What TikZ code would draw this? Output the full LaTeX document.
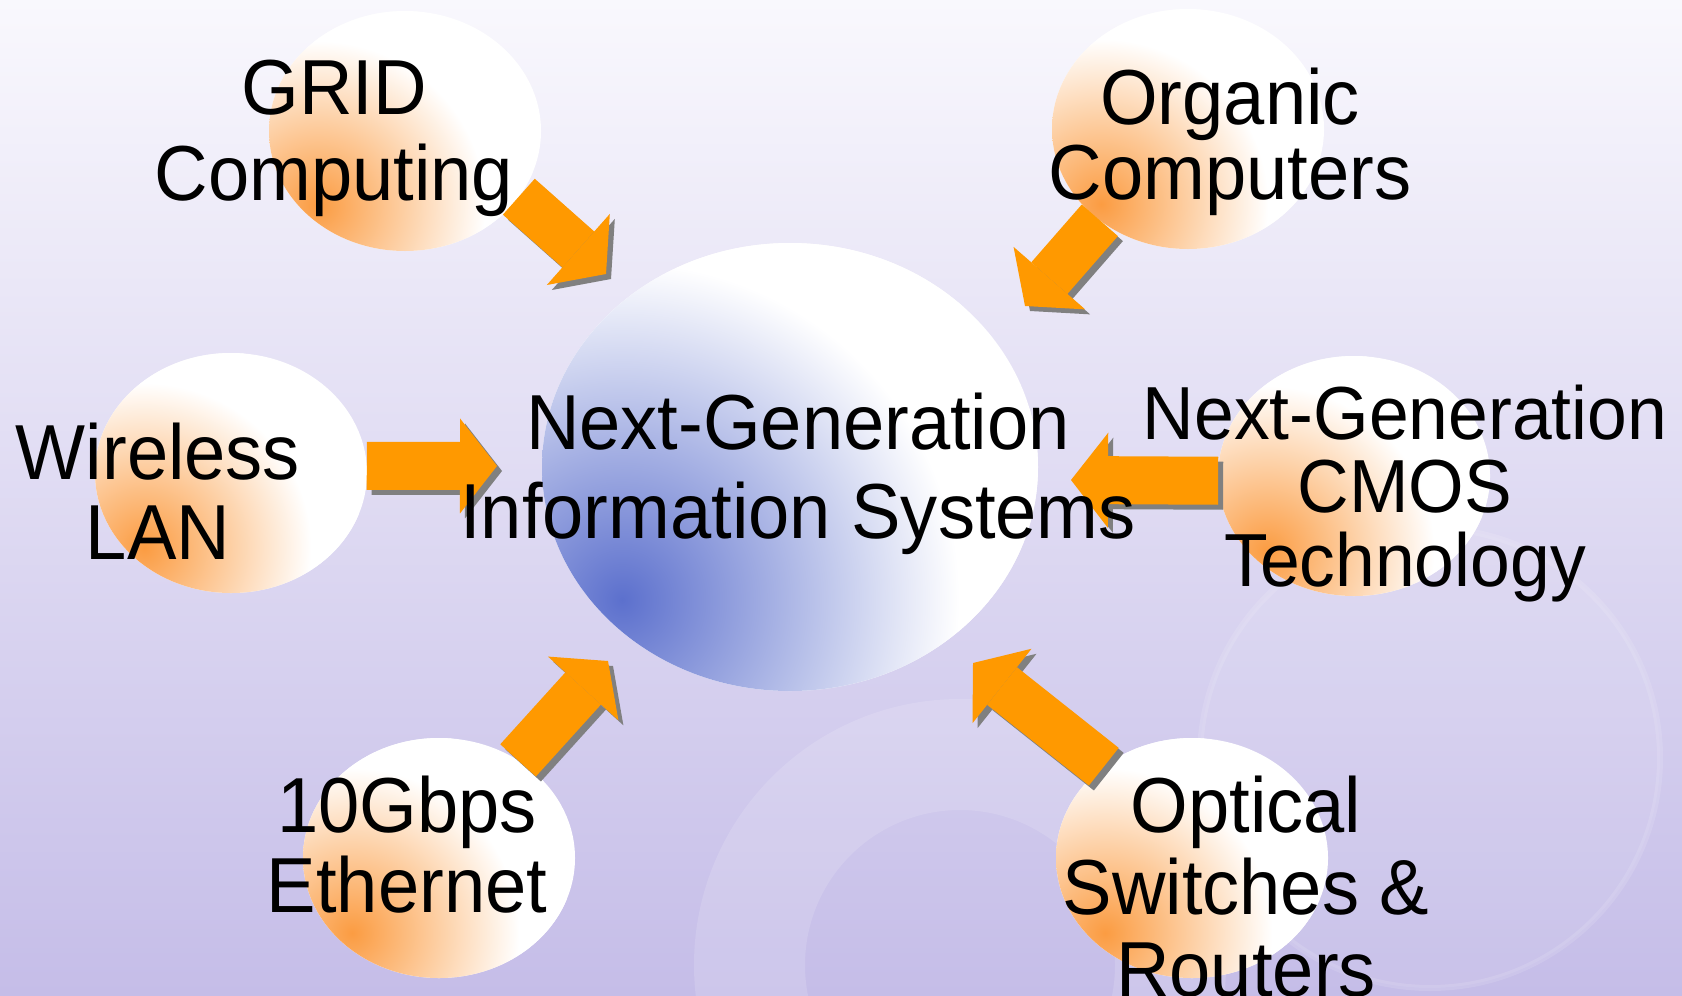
\documentclass[tikz,border=0pt]{standalone}
\usepackage{fontspec}
\setmainfont{Liberation Sans}[FakeStretch=0.95]
\usetikzlibrary{arrows.meta, shapes.geometric, calc}

\definecolor{bgtop}{RGB}{249,248,253}
\definecolor{bgmid}{RGB}{228,225,244}
\definecolor{bgbot}{RGB}{197,189,232}
\definecolor{hubblue}{RGB}{92,112,205}
\definecolor{ballorange}{RGB}{251,156,66}
\definecolor{arroworange}{RGB}{255,153,0}
\definecolor{arrowshadow}{RGB}{128,128,128}

\pgfdeclareradialshading{hubglow}{\pgfpointorigin}{color(0bp)=(hubblue); color(18.75bp)=(white); color(50bp)=(white)}
\pgfdeclareradialshading{ballglow}{\pgfpointorigin}{color(0bp)=(ballorange); color(18.75bp)=(white); color(50bp)=(white)}

\tikzset{
  ball/.style={ellipse, fill=white, minimum width=27.2mm, minimum height=24mm, inner sep=0pt, outer sep=0pt,
    path picture={\shade[shading=ballglow]
      ($(path picture bounding box.center)+(-90,75)$) circle (220);}},
  hubball/.style={ellipse, fill=white, minimum width=49.6mm, minimum height=44.8mm, inner sep=0pt, outer sep=0pt,
    path picture={\shade[shading=hubglow]
      ($(path picture bounding box.center)+(-168,133)$) circle (450);}},
  lbl/.style={anchor=north, align=center, inner sep=0pt, font=\fontsize{22.2}{22.8}\selectfont},
  bigarrow/.style={line width=4.8mm, arroworange, -{Triangle[length=3.7mm, width=9.5mm, line width=0pt]}},
  bigshadow/.style={bigarrow, arrowshadow, transform canvas={xshift=0.5mm, yshift=-0.5mm}},
}

\begin{document}
\begin{tikzpicture}[x=0.1mm, y=-0.1mm]
\useasboundingbox (0,0) rectangle (1682,995);
\clip (0,0) rectangle (1682,995);

% backdrop
\shade[top color=bgtop, middle color=bgmid, bottom color=bgbot] (0,0) rectangle (1682,995);
\fill[white, opacity=.14, even odd rule] (960,965) circle (266) circle (155);
\fill[white, opacity=.07] (1430,758) circle (230);
\draw[white, opacity=.12, line width=0.6mm] (1430,758) circle (230);

% bubbles
\node[hubball] (hub) at (790,467) {};
\node[ball] (grid) at (405,131) {};
\node[ball] (organic) at (1188,129) {};
\node[ball] (wlan) at (231,473) {};
\node[ball] (cmos) at (1354,476) {};
\node[ball] (eth) at (439,858) {};
\node[ball] (optical) at (1192,858) {};

% arrow tips
\coordinate (gridtip) at (606,274);
\coordinate (organictip) at (1025,306);
\coordinate (wlantip) at (497,466);
\coordinate (cmostip) at (1071,480);
\coordinate (ethtip) at (608,661);
\coordinate (opticaltip) at (973,663);

\draw[bigshadow] (grid.-30) -- (gridtip);
\draw[bigshadow] (organic.-134) -- (organictip);
\draw[bigshadow] (wlan.3) -- (wlantip);
\draw[bigshadow] (cmos.182) -- (cmostip);
\draw[bigshadow] (eth.51) -- (ethtip);
\draw[bigshadow] (optical.134) -- (opticaltip);

\draw[bigarrow] (grid.-30) -- (gridtip);
\draw[bigarrow] (organic.-134) -- (organictip);
\draw[bigarrow] (wlan.3) -- (wlantip);
\draw[bigarrow] (cmos.182) -- (cmostip);
\draw[bigarrow] (eth.51) -- (ethtip);
\draw[bigarrow] (optical.134) -- (opticaltip);

% labels
\node[lbl, font=\fontsize{22.2}{24.5}\selectfont] (gridtxt) at (334,59) {GRID\\Computing};
\node[lbl, font=\fontsize{22.2}{21.3}\selectfont] (organictxt) at (1230,67) {Organic\\Computers};
\node[lbl] (wlantxt) at (158,422) {Wireless\\LAN};
\node[lbl, font=\fontsize{22.2}{25.3}\selectfont] (hubtxt) at (798,392) {Next-Generation\\Information Systems};
\node[lbl, font=\fontsize{21.4}{20.9}\selectfont] (cmostxt) at (1405,384) {Next-Generation\\CMOS\\Technology};
\node[lbl] (ethtxt) at (407,775) {10Gbps\\Ethernet};
\node[lbl, font=\fontsize{22.2}{23.3}\selectfont] (opticaltxt) at (1246,775) {Optical\\Switches \&\\Routers};
\end{tikzpicture}
\end{document}
